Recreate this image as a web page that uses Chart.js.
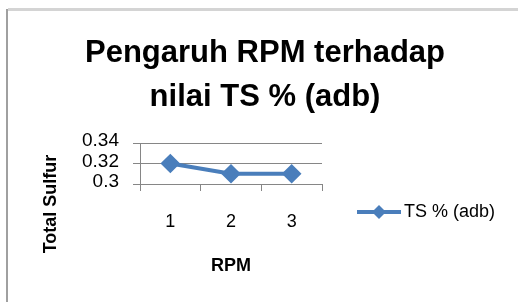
<!DOCTYPE html>
<html>
<head>
<meta charset="utf-8">
<script src="https://cdn.jsdelivr.net/npm/chart.js@4"></script>
<style>
  html, body { margin: 0; padding: 0; background: #fff; }
  #wrap { width: 518px; height: 302px; }
</style>
</head>
<body>
<div id="wrap"><canvas id="chart" width="518" height="302"></canvas></div>
<script>
// data
const rpmLabels = ['1', '2', '3'];
const tsValues = [0.32, 0.31, 0.31];
const yTicks = [0.3, 0.32, 0.34];
const yTickLabels = ['0.3', '0.32', '0.34'];
const seriesName = 'TS % (adb)';
const titleLines = ['Pengaruh RPM terhadap', 'nilai TS % (adb)'];
const yTitle = 'Total Sulfur';

const lineBlue = '#4a7ebb';
const axisGray = '#868686';
const fontFam = '"Liberation Sans", Arial, sans-serif';

// frame, white background, two-line title and the y title (Excel centres it lower than Chart.js would)
const framePlugin = {
    id: 'frame',
    beforeDraw(chart) {
        const ctx = chart.ctx;
        ctx.save();
        ctx.fillStyle = '#fff';
        ctx.fillRect(0, 0, chart.width, chart.height);
        ctx.strokeStyle = '#d4d4d4';
        ctx.lineWidth = 3;
        ctx.beginPath();
        ctx.moveTo(8, 9.5);
        ctx.lineTo(chart.width, 9.5);
        ctx.stroke();
        ctx.strokeStyle = '#a0a0a0';
        ctx.lineWidth = 2;
        ctx.beginPath();
        ctx.moveTo(7, chart.height);
        ctx.lineTo(7, 9);
        ctx.stroke();

        ctx.fillStyle = '#000';
        ctx.font = 'bold 31px ' + fontFam;
        ctx.textAlign = 'center';
        ctx.textBaseline = 'alphabetic';
        ctx.fillText(titleLines[0], 265, 62);
        ctx.fillText(titleLines[1], 265, 106);

        ctx.font = 'bold 18px ' + fontFam;
        ctx.textBaseline = 'middle';
        ctx.translate(51, 204);
        ctx.rotate(-Math.PI / 2);
        ctx.fillText(yTitle, 0, 0);
        ctx.restore();
    }
};

// legend drawn like Excel: line with diamond, then text
const legendPlugin = {
    id: 'xlLegend',
    afterDraw(chart) {
        const ctx = chart.ctx;
        const ds = chart.data.datasets[0];
        const y = 212;
        ctx.save();
        ctx.strokeStyle = ds.borderColor;
        ctx.lineWidth = 4;
        ctx.beginPath();
        ctx.moveTo(357, y);
        ctx.lineTo(401, y);
        ctx.stroke();
        ctx.fillStyle = ds.pointBackgroundColor;
        ctx.beginPath();
        ctx.moveTo(379, y - 7);
        ctx.lineTo(386, y);
        ctx.lineTo(379, y + 7);
        ctx.lineTo(372, y);
        ctx.closePath();
        ctx.fill();
        ctx.fillStyle = '#000';
        ctx.font = '18px ' + fontFam;
        ctx.textBaseline = 'middle';
        ctx.fillText(ds.label, 404, y);
        ctx.restore();
    }
};

new Chart(document.getElementById('chart'), {
    type: 'line',
    data: {
        labels: rpmLabels,
        datasets: [{
            label: seriesName,
            data: tsValues,
            borderColor: lineBlue,
            borderWidth: 4,
            pointStyle: 'rectRot',
            pointRadius: 7,
            pointBackgroundColor: lineBlue,
            pointBorderColor: lineBlue,
            tension: 0
        }]
    },
    options: {
        responsive: false,
        animation: false,
        layout: { padding: { left: 33, right: 196, top: 143, bottom: 20 } },
        plugins: {
            legend: { display: false },
            tooltip: { enabled: false },
            title: { display: false }
        },
        scales: {
            x: {
                offset: true,
                grid: { display: true, drawOnChartArea: false, offset: true, tickLength: 7, color: axisGray },
                border: { color: axisGray },
                ticks: { color: '#000', font: { family: fontFam, size: 18 }, padding: 20 },
                title: {
                    display: true, text: 'RPM', color: '#000',
                    font: { family: fontFam, size: 18, weight: 'bold' },
                    padding: { top: 10, bottom: 5 }
                },
                afterFit(scale) { scale.height = 98; }
            },
            y: {
                min: 0.3,
                max: 0.34,
                afterBuildTicks(scale) { scale.ticks = yTicks.map(v => ({ value: v })); },
                ticks: {
                    autoSkip: false,
                    color: '#000',
                    font: { family: fontFam, size: 19 },
                    padding: 14,
                    labelOffset: -2,
                    callback: (v) => yTickLabels[yTicks.findIndex(t => Math.abs(t - v) < 1e-9)]
                },
                grid: { color: axisGray, tickLength: 7 },
                border: { color: axisGray },
                title: { display: false },
                afterFit(scale) { scale.width = 107; }
            }
        }
    },
    plugins: [framePlugin, legendPlugin]
});
</script>
</body>
</html>
